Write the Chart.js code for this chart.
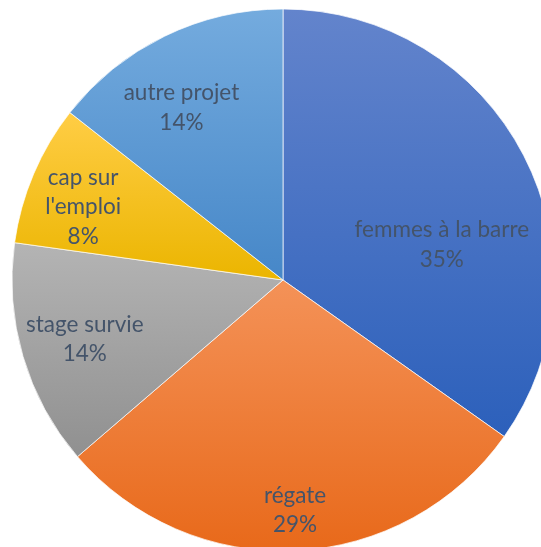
<!DOCTYPE html>
<html>
<head>
<meta charset="utf-8">
<script src="https://cdn.jsdelivr.net/npm/chart.js@4/dist/chart.umd.min.js"></script>
<style>
  html, body { margin: 0; padding: 0; background: #fff; overflow: hidden; }
  #wrap { position: absolute; left: 0; top: 0; width: 566px; height: 560px; }
</style>
</head>
<body>
<div id="wrap"><canvas id="grafico" width="566" height="560"></canvas></div>
<script>
// Données (parts en %)
const categories = ['femmes à la barre', 'régate', 'stage survie', ['cap sur', "l'emploi"], 'autre projet'];
const valeurs = [34.8, 28.9, 13.5, 8.4, 14.4];

// Dégradés (haut -> bas) pour chaque part
const couleursHaut = ['#6384cc', '#f49258', '#b4b4b4', '#ffcd45', '#74abde'];
const couleursBas = ['#2c60bb', '#e8691a', '#909090', '#ebb500', '#4687c8'];

// Placement des étiquettes : fraction du rayon et décalage d'angle (degrés)
const rayonEtiquette = [0.60, 0.85, 0.763, 0.785, 0.738];
const decalageAngle = [14.9, -0.3, -0.2, -3, -4.6];

// Applique un dégradé vertical à chaque secteur, sur sa propre hauteur
const degrades = {
    id: 'degrades',
    beforeDatasetsDraw(chart) {
        const meta = chart.getDatasetMeta(0);
        meta.data.forEach((arc, i) => {
            const {x, y, startAngle, endAngle, outerRadius} = arc.getProps(['x', 'y', 'startAngle', 'endAngle', 'outerRadius'], true);
            let minY = y, maxY = y;
            const angles = [startAngle, endAngle];
            for (let k = -4; k <= 4; k++) {
                const a = k * Math.PI / 2;
                if (a > startAngle && a < endAngle) angles.push(a);
            }
            angles.forEach(a => {
                const py = y + Math.sin(a) * outerRadius;
                minY = Math.min(minY, py);
                maxY = Math.max(maxY, py);
            });
            const g = chart.ctx.createLinearGradient(0, minY, 0, maxY);
            g.addColorStop(0, couleursHaut[i]);
            g.addColorStop(1, couleursBas[i]);
            arc.options.backgroundColor = g;
        });
    }
};

const etiquettes = {
    id: 'etiquettes',
    afterDatasetsDraw(chart) {
        const ctx = chart.ctx;
        const meta = chart.getDatasetMeta(0);
        const total = valeurs.reduce((s, v) => s + v, 0);
        ctx.save();
        ctx.font = '22.5px Lato';
        ctx.fillStyle = '#44546A';
        ctx.textAlign = 'center';
        ctx.textBaseline = 'middle';
        meta.data.forEach((arc, i) => {
            const {x, y, startAngle, endAngle, outerRadius} = arc.getProps(['x', 'y', 'startAngle', 'endAngle', 'outerRadius'], true);
            const mid = (startAngle + endAngle) / 2 + decalageAngle[i] * Math.PI / 180;
            const r = outerRadius * rayonEtiquette[i];
            const cx = x + Math.cos(mid) * r;
            const cy = y + Math.sin(mid) * r;
            const lignes = [].concat(categories[i]);
            lignes.push(Math.round(valeurs[i] / total * 100) + '%');
            const h = 29.5;
            lignes.forEach((t, j) => {
                ctx.fillText(t, cx, cy + (j - (lignes.length - 1) / 2) * h);
            });
        });
        ctx.restore();
    }
};

const ctx = document.getElementById('grafico').getContext('2d');
const chart = new Chart(ctx, {
    type: 'pie',
    data: {
        labels: categories,
        datasets: [{
            data: valeurs,
            // fonction : chaque secteur garde ses propres options (modifiables)
            backgroundColor: (c) => couleursBas[c.dataIndex],
            borderColor: 'rgba(255,255,255,0.7)',
            borderWidth: 1
        }]
    },
    options: {
        responsive: false,
        animation: false,
        devicePixelRatio: 1,
        layout: { padding: { left: 10, right: 10, top: 8.5, bottom: 8.5 } },
        plugins: {
            legend: { display: false },
            tooltip: { enabled: false }
        }
    },
    plugins: [degrades, etiquettes]
});
</script>
</body>
</html>
